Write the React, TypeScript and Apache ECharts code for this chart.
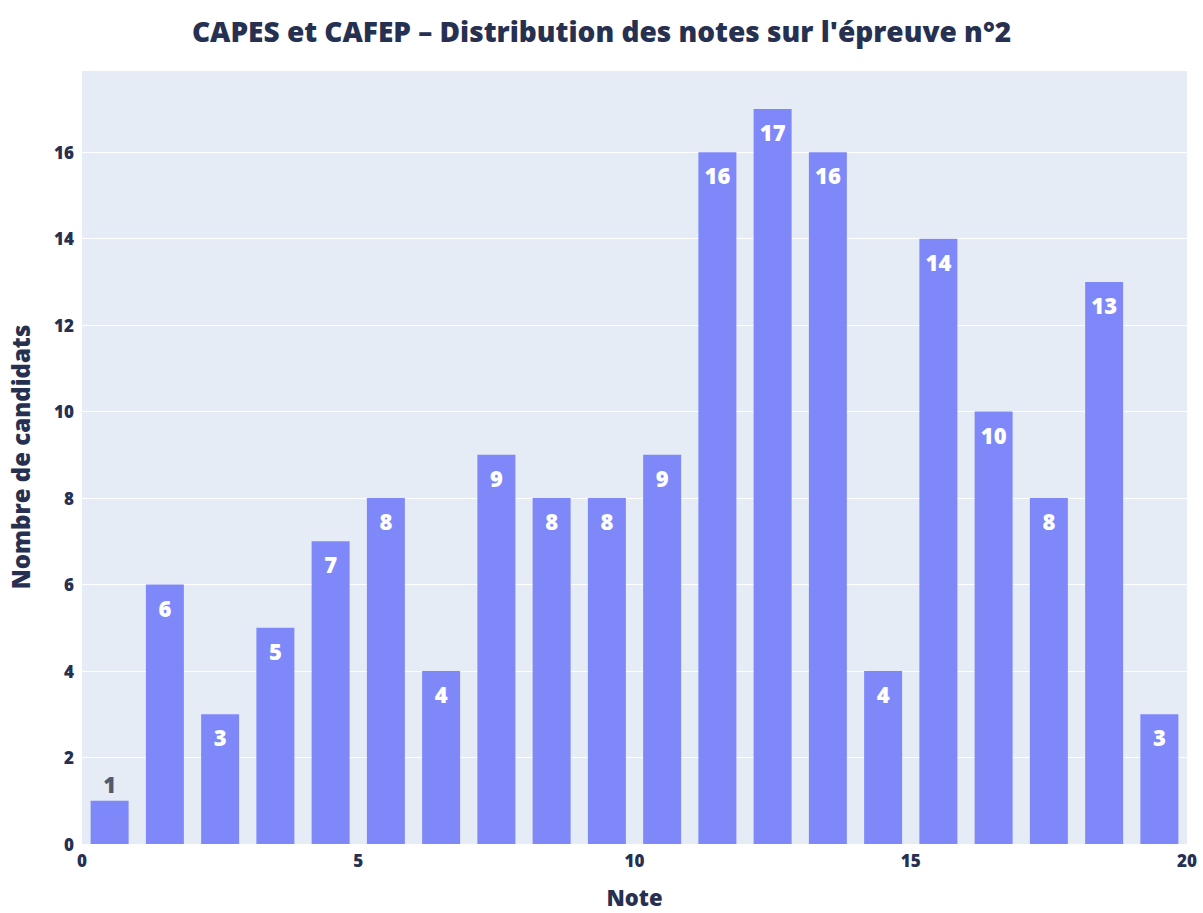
import React, { useEffect, useRef } from "react";
import * as echarts from "echarts";

const binCenters = [0.5, 1.5, 2.5, 3.5, 4.5, 5.5, 6.5, 7.5, 8.5, 9.5, 10.5, 11.5, 12.5, 13.5, 14.5, 15.5, 16.5, 17.5, 18.5, 19.5];
const counts = [1, 6, 3, 5, 7, 8, 4, 9, 8, 8, 9, 16, 17, 16, 4, 14, 10, 8, 13, 3];
const titleText = "CAPES et CAFEP – Distribution des notes sur l'épreuve n°2";
const xTitle = "Note";
const yTitle = "Nombre de candidats";

const FONT = "'Open Sans', Lato, sans-serif";
const DARK = "#263050";

export default function App() {
  const ref = useRef<HTMLDivElement>(null);
  useEffect(() => {
    if (!ref.current) return;
    const chart = echarts.init(ref.current, undefined, { renderer: "svg" });
    chart.setOption({
      animation: false,
      backgroundColor: "#ffffff",
      title: {
        text: titleText,
        left: "center",
        top: 12,
        textStyle: { fontFamily: FONT, fontWeight: 800, fontSize: 28, color: DARK },
      },
      grid: { left: 81, right: 16, top: 70, bottom: 68, show: true, backgroundColor: "#e5ecf6", borderWidth: 0 },
      xAxis: {
        type: "value",
        min: 0,
        max: 20,
        interval: 5,
        name: xTitle,
        nameLocation: "middle",
        nameGap: 42,
        nameTextStyle: { fontFamily: FONT, fontWeight: 800, fontSize: 22, color: DARK },
        axisLine: { show: false },
        axisTick: { show: false },
        splitLine: { show: false },
        axisLabel: { fontFamily: FONT, fontWeight: 800, fontSize: 17, color: DARK, margin: 8 },
      },
      yAxis: {
        type: "value",
        min: 0,
        max: 17.9,
        interval: 2,
        name: yTitle,
        nameLocation: "middle",
        nameGap: 50,
        nameTextStyle: { fontFamily: FONT, fontWeight: 800, fontSize: 24, color: DARK },
        axisLine: { show: false },
        axisTick: { show: false },
        splitLine: { show: true, lineStyle: { color: "#ffffff", width: 1 } },
        axisLabel: {
          fontFamily: FONT,
          fontWeight: 800,
          fontSize: 17,
          color: DARK,
          margin: 8,
          showMaxLabel: false,
        },
      },
      series: [
        {
          type: "bar",
          barWidth: 38,
          data: binCenters.map((c, i) => {
            const v = counts[i];
            const small = v < 2;
            return {
              value: [c, v],
              label: small
                ? { show: true, position: "top", distance: 6, color: "#55596a", fontFamily: FONT, fontWeight: 800, fontSize: 22, formatter: String(v) }
                : { show: true, position: "insideTop", distance: 12, color: "#ffffff", fontFamily: FONT, fontWeight: 800, fontSize: 22, formatter: String(v) },
            };
          }),
          itemStyle: { color: "#7f88f8" },
        },
      ],
    });
    return () => chart.dispose();
  }, []);
  return <div ref={ref} style={{ position: "fixed", left: 0, top: 0, width: 1203, height: 913 }} />;
}
